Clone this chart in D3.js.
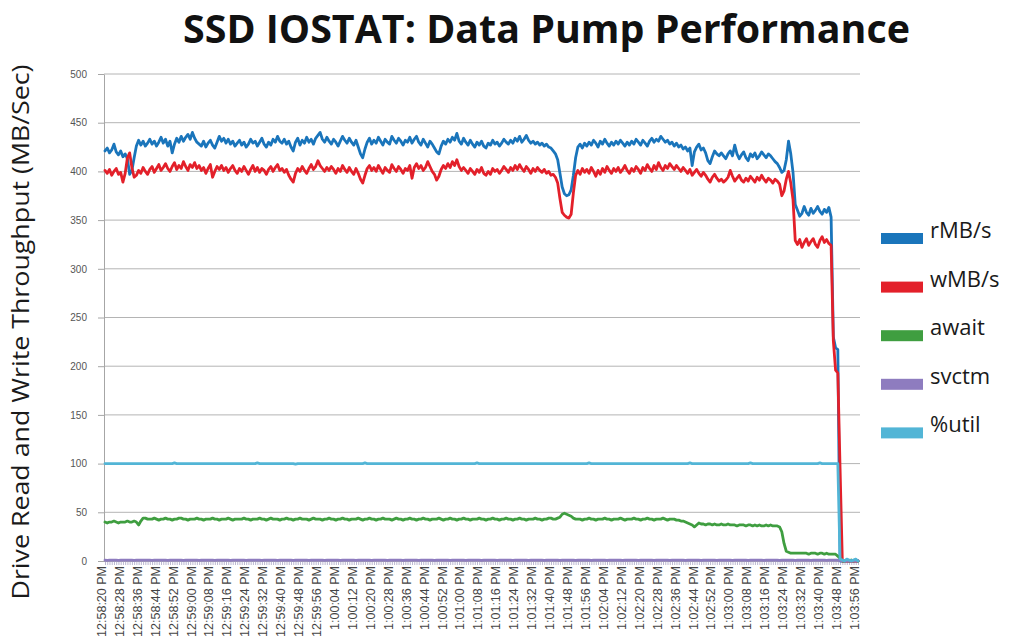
<!DOCTYPE html>
<html>
<head>
<meta charset="utf-8">
<script src="https://cdn.jsdelivr.net/npm/d3@7/dist/d3.min.js"></script>
<style>
html,body{margin:0;padding:0;background:#fff;}
svg{display:block;}
</style>
</head>
<body>
<svg id="chart" width="1015" height="641"></svg>
<script>
// ---------------- DATA ----------------
const chartTitle = "SSD IOSTAT: Data Pump Performance";
const yTitle = "Drive Read and Write Throughput (MB/Sec)";
const startTime = "12:58:20 PM";
const sampleCount = 337; // one iostat sample per second
const seriesNames = ["rMB/s", "wMB/s", "await", "svctm", "%util"];
const yTicks = [0, 50, 100, 150, 200, 250, 300, 350, 400, 450, 500];
const tickLabels = [
  "12:58:20 PM","12:58:28 PM","12:58:36 PM","12:58:44 PM","12:58:52 PM",
  "12:59:00 PM","12:59:08 PM","12:59:16 PM","12:59:24 PM","12:59:32 PM","12:59:40 PM","12:59:48 PM","12:59:56 PM",
  "1:00:04 PM","1:00:12 PM","1:00:20 PM","1:00:28 PM","1:00:36 PM","1:00:44 PM","1:00:52 PM",
  "1:01:00 PM","1:01:08 PM","1:01:16 PM","1:01:24 PM","1:01:32 PM","1:01:40 PM","1:01:48 PM","1:01:56 PM",
  "1:02:04 PM","1:02:12 PM","1:02:20 PM","1:02:28 PM","1:02:36 PM","1:02:44 PM","1:02:52 PM",
  "1:03:00 PM","1:03:08 PM","1:03:16 PM","1:03:24 PM","1:03:32 PM","1:03:40 PM","1:03:48 PM","1:03:56 PM"
];

const rMB = [
  421,424,419,422,428,420,417,421,415,418,413,397,401,414,426,432,427,431,426,429,
  433,428,431,426,430,435,429,433,426,431,419,428,434,430,436,431,435,438,433,440,
  434,430,428,426,431,425,429,432,427,424,430,436,431,434,429,433,428,431,426,429,
  432,427,430,425,428,433,429,431,426,430,434,428,425,430,427,433,430,436,431,429,
  433,428,431,425,421,430,434,427,432,429,435,430,433,428,434,437,440,433,430,435,
  431,428,433,430,426,431,436,432,429,434,430,427,432,425,418,414,423,430,434,428,
  432,429,435,431,427,433,430,428,436,432,429,434,431,427,432,430,435,429,433,436,
  430,427,433,429,425,431,428,424,420,418,426,431,428,433,430,435,432,439,431,428,
  434,430,427,432,428,425,430,427,431,426,424,429,427,432,428,430,426,429,433,430,
  428,432,429,434,431,436,430,433,437,432,429,431,428,430,427,429,426,428,425,424,
  421,418,412,398,384,377,375,376,381,396,414,425,428,424,429,426,430,427,432,429,
  425,431,428,433,429,426,430,427,431,428,432,429,426,430,427,431,428,433,430,427,
  432,429,426,431,434,430,433,431,436,433,430,432,428,430,426,429,425,427,423,425,
  421,424,406,420,425,428,422,424,419,411,408,415,421,418,416,419,416,413,418,421,
  416,427,418,413,417,420,414,411,418,415,419,413,416,420,417,414,418,416,413,410,
  408,404,399,401,412,431,418,399,366,360,354,357,364,358,355,362,357,360,364,359,
  356,361,358,363,353,230,219,217,0,0,0,0,0,0,0,0,0
];

const wMB = [
  401,398,402,396,400,403,397,399,389,398,414,419,404,394,396,401,398,404,400,397,
  402,405,399,403,407,401,404,408,403,400,405,409,402,406,403,410,405,401,407,404,
  409,403,406,401,404,398,403,407,394,400,405,402,406,401,404,399,403,406,401,398,
  403,400,405,401,397,402,406,400,404,399,403,401,397,402,405,400,404,407,401,403,
  399,402,396,392,389,398,403,400,405,401,398,403,407,402,405,411,406,403,400,404,
  401,405,402,398,403,400,406,402,399,404,400,397,403,398,392,388,396,403,406,401,
  404,400,406,402,398,404,401,399,407,403,400,405,402,398,403,401,406,393,404,408,
  403,406,401,404,410,405,400,397,391,395,402,406,403,408,404,410,406,412,405,401,
  404,401,398,403,400,397,402,399,404,398,396,400,397,403,400,402,398,401,405,402,
  399,404,401,406,402,407,403,400,405,402,398,403,400,404,401,399,402,398,400,396,
  397,394,388,372,358,355,353,352,356,378,396,401,397,403,399,402,398,404,400,395,
  401,397,403,399,405,401,398,403,400,404,399,402,406,401,398,403,400,405,402,398,
  404,401,407,403,400,406,402,409,404,401,406,403,408,405,402,406,403,400,404,401,
  398,402,396,399,402,398,395,399,396,392,389,394,397,393,390,392,389,391,394,401,
  395,390,393,396,391,389,393,390,395,392,389,394,391,396,392,389,393,391,388,392,
  390,387,375,380,392,400,388,371,329,325,330,322,327,331,324,328,331,325,322,329,
  333,327,330,326,324,226,196,193,95,0,0,0,0,0,0,0,0
];

const awaitMs = [
  40,39,40,40,41,40,39,40,40,40,41,40,40,41,40,37,41,44,44,43,
  43,43,44,43,42,43,43,44,43,43,42,43,43,44,44,43,43,42,43,43,
  43,44,43,43,42,43,43,43,44,43,43,42,43,43,43,44,43,42,43,43,
  43,43,44,43,43,42,43,43,43,44,43,43,42,43,44,43,43,43,42,43,
  43,44,43,43,42,43,43,44,43,43,43,42,43,44,43,43,43,42,43,43,
  44,43,43,42,43,43,44,43,43,42,43,43,43,44,43,42,43,43,44,43,
  43,42,43,43,44,43,43,43,42,43,44,43,43,42,43,43,44,43,43,42,
  43,43,44,43,43,42,43,43,43,44,43,42,43,43,44,43,43,42,43,43,
  44,43,43,42,43,43,43,44,43,43,42,43,43,44,43,43,42,43,43,44,
  43,43,42,43,43,44,43,43,42,43,43,43,44,43,43,42,43,43,44,44,
  43,43,44,45,48,49,48,47,46,44,43,43,43,42,43,43,44,43,43,42,
  43,43,43,44,43,43,42,43,43,43,44,43,42,43,43,43,44,43,43,42,
  43,43,44,43,43,42,43,43,43,44,43,42,43,43,43,42,42,41,41,40,
  39,38,37,35,37,39,38,38,37,38,38,37,38,37,37,38,37,37,38,37,
  37,37,36,37,37,37,36,37,37,36,37,36,37,36,36,37,36,37,36,36,
  36,35,30,18,10,9,8,8,8,8,8,8,8,8,7,8,8,8,7,8,
  8,7,8,7,7,7,7,5,3,0,0,1,0,1,0,1,0
];

const svctm = [
  0.8,0.7,0.8,0.8,0.9,0.8,0.7,0.8,0.8,0.8, 0.9,0.8,0.8,0.7,0.8,0.8,0.8,0.9,0.8,0.8,
  0.8,0.7,0.8,0.8,0.8,0.9,0.8,0.8,0.7,0.8, 0.8,0.8,0.9,0.8,0.8,0.7,0.8,0.8,0.8,0.9,
  0.8,0.8,0.7,0.8,0.8,0.8,0.9,0.8,0.8,0.7, 0.8,0.8,0.8,0.9,0.8,0.8,0.7,0.8,0.8,0.8,
  0.9,0.8,0.8,0.7,0.8,0.8,0.8,0.9,0.8,0.8, 0.7,0.8,0.8,0.8,0.9,0.8,0.8,0.7,0.8,0.8,
  0.8,0.9,0.8,0.8,0.7,0.8,0.8,0.8,0.9,0.8, 0.8,0.7,0.8,0.8,0.8,0.9,0.8,0.8,0.7,0.8,
  0.8,0.8,0.9,0.8,0.8,0.7,0.8,0.8,0.8,0.9, 0.8,0.8,0.7,0.8,0.8,0.8,0.9,0.8,0.8,0.7,
  0.8,0.8,0.8,0.9,0.8,0.8,0.7,0.8,0.8,0.8, 0.9,0.8,0.8,0.7,0.8,0.8,0.8,0.9,0.8,0.8,
  0.7,0.8,0.8,0.8,0.9,0.8,0.8,0.7,0.8,0.8, 0.8,0.9,0.8,0.8,0.7,0.8,0.8,0.8,0.9,0.8,
  0.8,0.7,0.8,0.8,0.8,0.9,0.8,0.8,0.7,0.8, 0.8,0.8,0.9,0.8,0.8,0.7,0.8,0.8,0.8,0.9,
  0.8,0.8,0.7,0.8,0.8,0.8,0.9,0.8,0.8,0.7, 0.8,0.8,0.8,0.9,0.8,0.8,0.7,0.8,0.8,0.8,
  0.9,0.8,0.8,0.7,0.8,0.8,0.8,0.9,0.8,0.8, 0.7,0.8,0.8,0.8,0.9,0.8,0.8,0.7,0.8,0.8,
  0.8,0.9,0.8,0.8,0.7,0.8,0.8,0.8,0.9,0.8, 0.8,0.7,0.8,0.8,0.8,0.9,0.8,0.8,0.7,0.8,
  0.8,0.8,0.9,0.8,0.8,0.7,0.8,0.8,0.8,0.9, 0.8,0.8,0.7,0.8,0.8,0.8,0.9,0.8,0.8,0.7,
  0.8,0.8,0.8,0.9,0.8,0.8,0.7,0.8,0.8,0.8, 0.9,0.8,0.8,0.7,0.8,0.8,0.8,0.9,0.8,0.8,
  0.7,0.8,0.8,0.8,0.9,0.8,0.8,0.7,0.8,0.8, 0.8,0.9,0.8,0.8,0.7,0.8,0.8,0.8,0.9,0.8,
  0.8,0.7,0.8,0.8,0.8,0.9,0.8,0.8,0.7,0.8, 0.8,0.8,0.9,0.8,0.8,0.7,0.8,0.8,0.8,0.9,
  0.8,0.8,0.7,0.8,0.8,0.8,0.9,0.8,0.3,0.2, 0.3,0.2,0.3,0.2,0.3,0.2,0.3
];

const util = [
  100,100,100,100,100,100,100,100,100,100, 100,100,100,100,100,100,100,100,100,100,
  100,100,100,100,100,100,100,100,100,100, 100,100.7,100,100,100,100,100,100,100,100,
  100,100,100,100,100,100,100,100,100,100, 100,100,100,100,100,100,100,100,100,100,
  100,100,100,100,100,100,100,100,100.7,100, 100,100,100,100,100,100,100,100,100,100,
  100,100,100,100,100,99.4,100,100,100,100, 100,100,100,100,100,100,100,100,100,100,
  100,100,100,100,100,100,100,100,100,100, 100,100,100,100,100,100,100.7,100,100,100,
  100,100,100,100,100,100,100,100,100,100, 100,100,100,100,100,100,100,100,100,100,
  100,100,100,100,100,100,100,100,100,100, 100,100,100,100,100,100,100,100,100,100,
  100,100,100,100,100,100,100.7,100,100,100, 100,100,100,100,100,100,100,100,100,100,
  100,100,100,100,100,100,100,100,100,100, 100,100,100,100,100,100,100,100,100,100,
  100,100,100,100,100,100,100,100,100,100, 100,100,100,100,100,100,100.7,100,100,100,
  100,100,100,100,100,100,100,100,100,100, 100,100,100,100,100,100,100,100,100,100,
  100,100,100,100,100,100,100,100,100,100, 100,100,100,100,100,100,100,100,100,100,
  100,100.7,100,100,100,100,100,100,100,100, 100,100,100,100,100,100,100,100,100,100,
  100,100,100,100,100,100,100,100,100.7,100, 100,100,100,100,100,100,100,100,100,100,
  100,100,100,100,100,100,100,100,100,100, 100,100,100,100,100,100,100,100,100,100.7,
  100,100,100,100,100,100,100,100,2,1, 0,2,1,0,1,2,0
];

const seriesValues = [rMB, wMB, awaitMs, svctm, util];
const seriesColors = ["#1a75bb", "#e3202a", "#3f9e40", "#8e7cbf", "#52b5d6"];

// ---------------- CHART ----------------
seriesValues.forEach((s, k) => {
  if (s.length !== sampleCount) throw new Error(seriesNames[k] + " has " + s.length + " values");
});

const parseT = d3.timeParse("%I:%M:%S %p");
const fmtT = d3.timeFormat("%-I:%M:%S %p");
const t0 = parseT(startTime);
const categories = d3.range(sampleCount).map(i => fmtT(d3.timeSecond.offset(t0, i)));

const svg = d3.select("#chart");
svg.append("rect").attr("width", 1015).attr("height", 641).attr("fill", "#fff");

const plotLeft = 104, plotRight = 860;
const x = d3.scalePoint().domain(categories).range([105, 858]);
const y = d3.scaleLinear().domain([0, 500]).range([561, 74]);

// gridlines
svg.append("g").selectAll("line").data(yTicks.filter(v => v > 0)).join("line")
  .attr("x1", plotLeft).attr("x2", plotRight)
  .attr("y1", d => y(d)).attr("y2", d => y(d))
  .attr("stroke", "#b4b4b4").attr("stroke-width", 1);

// y axis
const yAxis = svg.append("g").attr("transform", `translate(${plotLeft},0)`)
  .call(d3.axisLeft(y).tickValues(yTicks).tickSize(6).tickSizeOuter(0).tickPadding(11));
yAxis.select(".domain").attr("stroke", "#a6a6a6");
yAxis.selectAll(".tick line").attr("stroke", "#a6a6a6");
yAxis.selectAll(".tick text").attr("font-family", "Liberation Sans, Arial, sans-serif")
  .attr("font-size", 10).attr("fill", "#555");

// x axis: ticks for every sample
const xTicksAxis = svg.append("g").attr("transform", `translate(0,561)`)
  .call(d3.axisBottom(x).tickValues(categories).tickSize(4).tickSizeOuter(0).tickFormat(""));
xTicksAxis.select(".domain").attr("stroke", "#a6a6a6").attr("d", `M${plotLeft},0.5H${plotRight}`);
xTicksAxis.selectAll(".tick line").attr("stroke", "#a9a4c4").attr("stroke-width", 0.8);

// x axis labels
const xLabAxis = svg.append("g").attr("transform", `translate(0,561)`)
  .call(d3.axisBottom(x).tickValues(tickLabels).tickSize(0));
xLabAxis.select(".domain").remove();
xLabAxis.selectAll(".tick text")
  .attr("font-family", "Liberation Sans, Arial, sans-serif")
  .attr("font-size", 12.5).attr("fill", "#444")
  .attr("transform", "rotate(-90)")
  .attr("text-anchor", "end")
  .attr("x", -5).attr("y", -4).attr("dy", "0.35em");

// series lines
const line = d3.line().x((d, i) => x(categories[i])).y(d => y(d));
svg.append("g").selectAll("path").data(seriesValues).join("path")
  .attr("d", d => line(d))
  .attr("fill", "none")
  .attr("stroke", (d, k) => seriesColors[k])
  .attr("stroke-width", 2.8)
  .attr("stroke-linejoin", "round")
  .attr("stroke-linecap", "round");

// title
svg.append("text").attr("x", 546.5).attr("y", 43)
  .attr("text-anchor", "middle")
  .attr("font-family", "Open Sans, Lato, sans-serif").attr("font-weight", 700)
  .attr("font-size", 40).attr("fill", "#111")
  .attr("textLength", 727).attr("lengthAdjust", "spacingAndGlyphs")
  .text(chartTitle);

// y title
svg.append("text").attr("transform", "translate(29,332) rotate(-90)")
  .attr("text-anchor", "middle")
  .attr("font-family", "Open Sans, Lato, sans-serif")
  .attr("font-size", 24).attr("fill", "#1a1a1a")
  .attr("textLength", 535).attr("lengthAdjust", "spacingAndGlyphs")
  .text(yTitle);

// legend
const leg = svg.append("g").selectAll("g").data(seriesNames).join("g")
  .attr("transform", (d, k) => `translate(881,${233 + k * 48.6})`);
leg.append("rect").attr("width", 42).attr("height", 11)
  .attr("fill", (d, k) => seriesColors[k]);
leg.append("text").attr("x", 49).attr("y", 5)
  .attr("font-family", "Open Sans, Lato, sans-serif")
  .attr("font-size", 22).attr("fill", "#1a1a1a")
  .text(d => d);
</script>
</body>
</html>
